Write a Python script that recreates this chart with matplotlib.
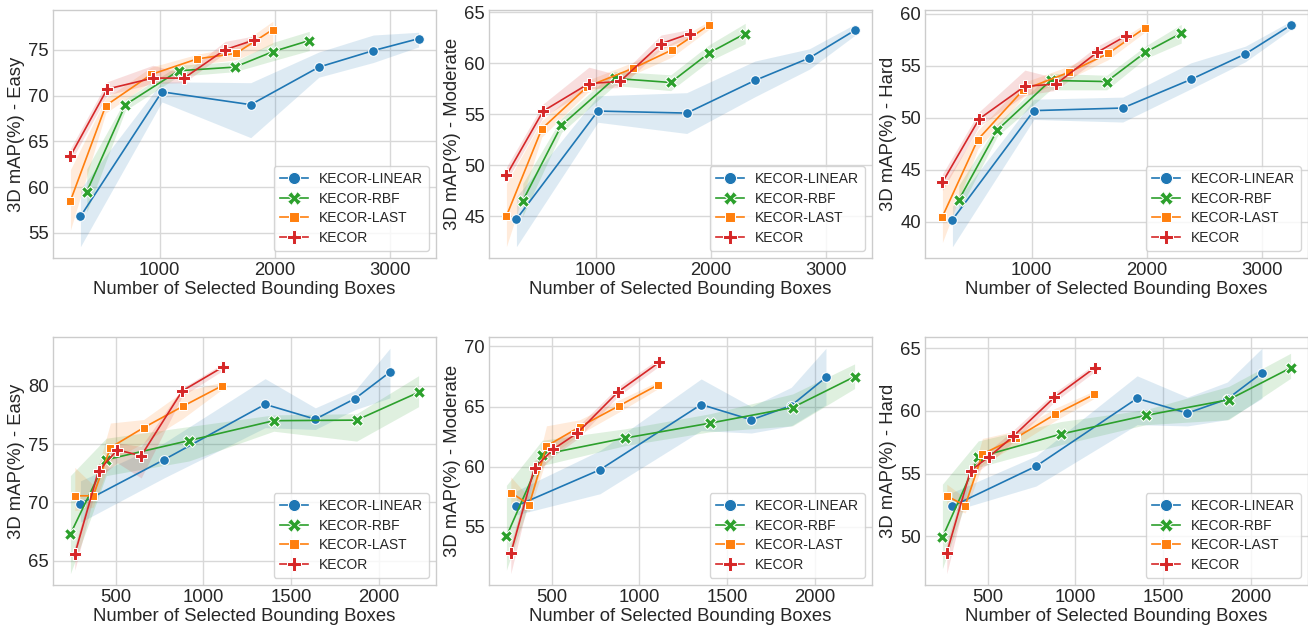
import matplotlib
matplotlib.use("Agg")
import matplotlib.pyplot as plt
from matplotlib.ticker import MultipleLocator

# ---------------- data ----------------
methods = ["KECOR-LINEAR", "KECOR-RBF", "KECOR-LAST", "KECOR"]
colors = ["#1f77b4", "#2ca02c", "#ff7f0e", "#d62728"]
markers = ["o", "X", (4, 0, 45), "P"]

# x positions (number of selected bounding boxes)
top_x_linear = [313, 1020, 1791, 2383, 2855, 3248]
top_x_rbf = [368, 704, 1165, 1652, 1986, 2299]
top_x_last = [226, 533, 928, 1328, 1664, 1983]
top_x_kecor = [226, 545, 942, 1212, 1568, 1820]

bot_x_linear = [300, 776, 1352, 1638, 1865, 2063]
bot_x_rbf = [243, 447, 918, 1401, 1873, 2226]
bot_x_last = [268, 373, 471, 660, 884, 1108]
bot_x_kecor = [268, 403, 510, 646, 880, 1112]

# ---- top row: Easy ----
top_easy_mean = {
    "KECOR-LINEAR": [56.8, 70.4, 69.0, 73.1, 74.9, 76.2],
    "KECOR-RBF": [59.5, 69.0, 72.7, 73.1, 74.8, 76.0],
    "KECOR-LAST": [58.5, 68.9, 72.3, 74.0, 74.6, 77.2],
    "KECOR": [63.4, 70.7, 71.9, 71.9, 75.0, 76.05],
}
top_easy_lo = {
    "KECOR-LINEAR": [53.5, 69.3, 65.4, 72.0, 73.6, 75.3],
    "KECOR-RBF": [57.3, 68.4, 72.1, 72.6, 73.8, 74.9],
    "KECOR-LAST": [55.3, 68.1, 71.5, 73.4, 73.9, 75.6],
    "KECOR": [62.7, 70.05, 71.3, 71.4, 74.6, 75.6],
}
top_easy_hi = {
    "KECOR-LINEAR": [59.8, 71.5, 71.4, 74.75, 76.6, 76.9],
    "KECOR-RBF": [62.0, 69.6, 73.3, 73.7, 75.8, 77.0],
    "KECOR-LAST": [61.9, 69.7, 73.1, 74.5, 75.3, 78.1],
    "KECOR": [64.2, 71.5, 73.3, 72.4, 75.9, 76.5],
}

# ---- top row: Moderate ----
top_mod_mean = {
    "KECOR-LINEAR": [44.7, 55.3, 55.1, 58.3, 60.5, 63.2],
    "KECOR-RBF": [46.5, 53.9, 58.5, 58.1, 61.0, 62.9],
    "KECOR-LAST": [45.0, 53.55, 57.7, 59.5, 61.3, 63.7],
    "KECOR": [49.0, 55.3, 58.0, 58.2, 61.9, 62.9],
}
top_mod_lo = {
    "KECOR-LINEAR": [42.0, 54.2, 53.1, 56.7, 59.4, 62.7],
    "KECOR-RBF": [45.0, 53.2, 57.8, 57.3, 60.2, 61.9],
    "KECOR-LAST": [42.0, 52.75, 57.1, 58.9, 60.6, 63.3],
    "KECOR": [48.4, 54.7, 57.5, 57.6, 61.35, 62.5],
}
top_mod_hi = {
    "KECOR-LINEAR": [46.9, 56.8, 57.1, 60.2, 61.4, 63.8],
    "KECOR-RBF": [48.2, 54.6, 59.2, 58.85, 61.8, 63.9],
    "KECOR-LAST": [48.2, 54.35, 58.3, 60.1, 62.0, 64.1],
    "KECOR": [49.8, 56.0, 59.6, 58.8, 62.75, 63.3],
}

# ---- top row: Hard ----
top_hard_mean = {
    "KECOR-LINEAR": [40.2, 50.7, 50.95, 53.7, 56.15, 58.9],
    "KECOR-RBF": [42.1, 48.85, 53.6, 53.5, 56.3, 58.15],
    "KECOR-LAST": [40.5, 47.9, 52.7, 54.4, 56.2, 58.65],
    "KECOR": [43.8, 49.9, 53.05, 53.25, 56.3, 57.9],
}
top_hard_lo = {
    "KECOR-LINEAR": [37.6, 49.85, 49.6, 52.8, 55.4, 58.5],
    "KECOR-RBF": [41.0, 48.25, 52.7, 52.7, 55.7, 57.2],
    "KECOR-LAST": [38.0, 47.0, 52.0, 53.8, 55.6, 58.25],
    "KECOR": [43.0, 49.2, 52.2, 52.65, 55.7, 57.5],
}
top_hard_hi = {
    "KECOR-LINEAR": [41.5, 51.8, 52.0, 55.3, 56.9, 59.3],
    "KECOR-RBF": [43.5, 49.45, 54.3, 54.1, 56.9, 59.0],
    "KECOR-LAST": [43.4, 48.8, 53.4, 55.0, 56.8, 59.05],
    "KECOR": [44.6, 50.6, 54.6, 53.85, 56.9, 58.3],
}

# ---- bottom row: Easy ----
bot_easy_mean = {
    "KECOR-LINEAR": [69.9, 73.66, 78.4, 77.13, 78.9, 81.16],
    "KECOR-RBF": [67.3, 73.66, 75.3, 77.0, 77.05, 79.43],
    "KECOR-LAST": [70.57, 70.57, 74.7, 76.4, 78.24, 80.0],
    "KECOR": [65.57, 72.7, 74.5, 74.0, 79.55, 81.6],
}
bot_easy_lo = {
    "KECOR-LINEAR": [68.3, 72.1, 76.4, 76.25, 77.95, 78.95],
    "KECOR-RBF": [63.9, 72.3, 73.55, 76.1, 75.25, 78.2],
    "KECOR-LAST": [69.3, 69.6, 73.55, 75.1, 77.2, 79.7],
    "KECOR": [64.2, 72.1, 73.4, 72.1, 79.1, 81.3],
}
bot_easy_hi = {
    "KECOR-LINEAR": [71.85, 75.1, 80.6, 78.1, 79.6, 83.2],
    "KECOR-RBF": [72.3, 75.5, 76.5, 77.5, 77.6, 80.85],
    "KECOR-LAST": [73.0, 71.5, 76.8, 77.1, 79.5, 80.3],
    "KECOR": [66.3, 73.3, 75.1, 74.8, 79.8, 81.9],
}

# ---- bottom row: Moderate ----
bot_mod_mean = {
    "KECOR-LINEAR": [56.74, 59.75, 65.17, 63.9, 65.08, 67.43],
    "KECOR-RBF": [54.2, 61.0, 62.38, 63.62, 64.92, 67.49],
    "KECOR-LAST": [57.85, 56.85, 61.71, 63.31, 65.06, 66.82],
    "KECOR": [52.8, 59.9, 61.46, 62.79, 66.24, 68.67],
}
bot_mod_lo = {
    "KECOR-LINEAR": [56.0, 57.75, 63.0, 62.8, 63.4, 65.15],
    "KECOR-RBF": [51.4, 60.1, 61.75, 62.9, 63.4, 66.5],
    "KECOR-LAST": [56.65, 56.25, 60.65, 62.7, 64.55, 66.5],
    "KECOR": [51.1, 59.3, 60.85, 62.3, 65.85, 68.35],
}
bot_mod_hi = {
    "KECOR-LINEAR": [58.0, 61.35, 67.3, 65.0, 66.6, 69.85],
    "KECOR-RBF": [58.45, 62.2, 63.15, 64.4, 66.05, 68.55],
    "KECOR-LAST": [59.15, 57.45, 63.4, 63.9, 65.55, 67.1],
    "KECOR": [53.6, 60.5, 62.05, 63.3, 66.65, 69.0],
}

# ---- bottom row: Hard ----
bot_hard_mean = {
    "KECOR-LINEAR": [52.39, 55.58, 61.0, 59.82, 60.94, 63.04],
    "KECOR-RBF": [49.9, 56.3, 58.15, 59.64, 60.89, 63.43],
    "KECOR-LAST": [53.21, 52.44, 56.56, 57.83, 59.72, 61.31],
    "KECOR": [48.67, 55.23, 56.35, 57.97, 61.07, 63.46],
}
bot_hard_lo = {
    "KECOR-LINEAR": [52.0, 54.0, 58.9, 58.8, 59.3, 61.0],
    "KECOR-RBF": [47.4, 55.5, 57.3, 58.9, 59.3, 62.6],
    "KECOR-LAST": [52.3, 51.85, 55.7, 57.25, 59.2, 61.0],
    "KECOR": [47.0, 54.75, 55.85, 57.5, 60.7, 63.15],
}
bot_hard_hi = {
    "KECOR-LINEAR": [53.5, 56.4, 62.8, 61.1, 62.3, 65.0],
    "KECOR-RBF": [54.15, 57.6, 59.15, 60.1, 61.95, 64.6],
    "KECOR-LAST": [54.15, 53.05, 57.8, 58.4, 60.2, 61.6],
    "KECOR": [49.5, 55.7, 56.85, 58.45, 61.45, 63.75],
}

top_x = {"KECOR-LINEAR": top_x_linear, "KECOR-RBF": top_x_rbf,
         "KECOR-LAST": top_x_last, "KECOR": top_x_kecor}
bot_x = {"KECOR-LINEAR": bot_x_linear, "KECOR-RBF": bot_x_rbf,
         "KECOR-LAST": bot_x_last, "KECOR": bot_x_kecor}

ylabels = ["3D mAP(%) - Easy", "3D mAP(%) - Moderate", "3D mAP(%) - Hard"]
xlabel = "Number of Selected Bounding Boxes"

panels = [
    (0, 0, top_x, top_easy_mean, top_easy_lo, top_easy_hi),
    (0, 1, top_x, top_mod_mean, top_mod_lo, top_mod_hi),
    (0, 2, top_x, top_hard_mean, top_hard_lo, top_hard_hi),
    (1, 0, bot_x, bot_easy_mean, bot_easy_lo, bot_easy_hi),
    (1, 1, bot_x, bot_mod_mean, bot_mod_lo, bot_mod_hi),
    (1, 2, bot_x, bot_hard_mean, bot_hard_lo, bot_hard_hi),
]

# ---------------- style ----------------
plt.rcParams["font.family"] = ["Liberation Sans", "DejaVu Sans"]
plt.rcParams["text.color"] = "#262626"
plt.rcParams["axes.labelcolor"] = "#262626"
plt.rcParams["xtick.color"] = "#262626"
plt.rcParams["ytick.color"] = "#262626"

W, H = 1308, 630
fig = plt.figure(figsize=(W / 100, H / 100), dpi=100)

lefts = [53, 489, 925]
tops = [10, 337]
aw, ah = 383, 248
msizes = [7, 8, 8, 8]

for row, col, xs, means, los, his in panels:
    l = lefts[col]
    t = tops[row]
    ax = fig.add_axes([l / W, (H - t - ah) / H, aw / W, ah / H])
    ax.set_facecolor("white")
    ax.grid(True, color="#d8d8d8", linewidth=1.0)
    ax.set_axisbelow(True)
    for sp in ax.spines.values():
        sp.set_color("#cccccc")
        sp.set_linewidth(1.0)
    for m, c, mk, ms in zip(methods, colors, markers, msizes):
        x = xs[m]
        ax.fill_between(x, los[m], his[m], color=c, alpha=0.15, linewidth=0)
        ax.plot(x, means[m], color=c, marker=mk, markersize=ms,
                markeredgecolor="white", markeredgewidth=0.75, linewidth=1.2,
                label=m)
    ax.xaxis.set_major_locator(MultipleLocator(1000 if row == 0 else 500))
    ax.yaxis.set_major_locator(MultipleLocator(5))
    ax.tick_params(axis="both", labelsize=13.3, length=0, pad=3)
    ax.set_xlabel(xlabel, fontsize=13.3, labelpad=1)
    ax.set_ylabel(ylabels[col], fontsize=13.3, labelpad=2)
    ax.legend(loc="lower right", fontsize=10, frameon=True, fancybox=True,
              edgecolor="#cccccc", framealpha=0.8, markerscale=1.25,
              labelspacing=0.4, borderpad=0.45, handletextpad=0.8)

fig.savefig("out.png", dpi=100, facecolor="white")
